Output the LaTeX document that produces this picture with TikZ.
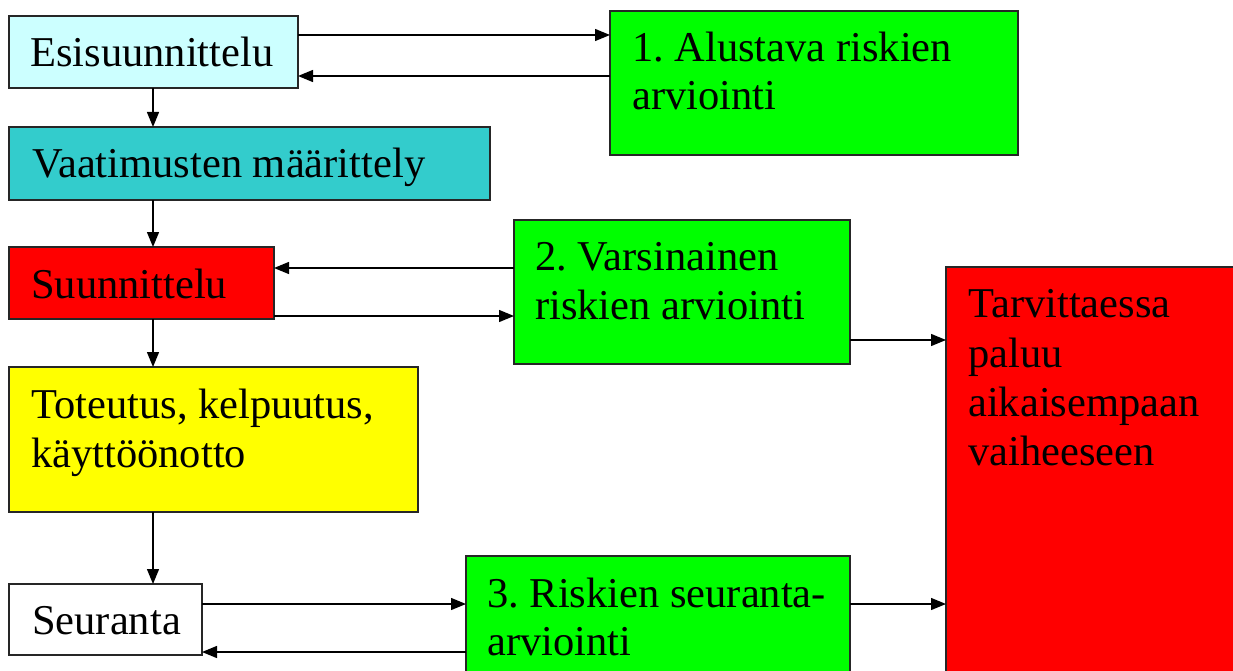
\documentclass[tikz,border=0pt]{standalone}
\usepackage{fontspec}
\setmainfont{Liberation Serif}
\usetikzlibrary{arrows.meta}
\frenchspacing
\definecolor{lcyan}{HTML}{CCFFFF}
\definecolor{teal2}{HTML}{33CCCC}
\definecolor{gr}{HTML}{00FF00}
\definecolor{rd}{HTML}{FF0000}
\definecolor{yl}{HTML}{FFFF00}
\tikzset{
  box/.style={draw=black!85, line width=1.8pt, rectangle, inner sep=0pt, outer sep=0pt, anchor=north west},
  txt/.style={anchor=base west, inner sep=0pt, font=\fontsize{42.5}{49}\selectfont},
  arr/.style={line width=1.3pt, -{Triangle[length=15pt,width=12pt]}}
}
\begin{document}
\begin{tikzpicture}[x=1pt,y=-1pt]
\useasboundingbox (0,0) rectangle (1233,671);
\clip (0,0) rectangle (1233,671);
% boxes
\node[box, fill=lcyan, minimum width=289pt, minimum height=72pt] (esi) at (9,16) {};
\node[box, fill=gr, minimum width=408pt, minimum height=144pt] (alu) at (610,11) {};
\node[box, fill=teal2, minimum width=481pt, minimum height=73pt] (vaat) at (9,127) {};
\node[box, fill=rd, minimum width=265pt, minimum height=72pt] (suu) at (9,247) {};
\node[box, fill=gr, minimum width=336pt, minimum height=144pt] (var) at (514,220) {};
\node[box, fill=yl, minimum width=409pt, minimum height=145pt] (tot) at (9,367) {};
\node[box, fill=white, minimum width=193pt, minimum height=71pt] (seu) at (9,584) {};
\node[box, fill=gr, minimum width=384pt, minimum height=140pt] (ris) at (466,556) {};
\node[box, fill=rd, minimum width=320pt, minimum height=430pt] (tar) at (946,267) {};
% texts
\node[txt] (t1) at (30,67) {Esisuunnittelu};
\node[txt] (t2a) at (632,62) {1. Alustava riskien};
\node[txt] (t2b) at (632,110) {arviointi};
\node[txt] (t3) at (32,178) {Vaatimusten määrittely};
\node[txt] (t4) at (31,298) {Suunnittelu};
\node[txt] (t5a) at (535,270) {2. Varsinainen};
\node[txt] (t5b) at (535,319) {riskien arviointi};
\node[txt] (t6a) at (31,418) {Toteutus, kelpuutus,};
\node[txt] (t6b) at (31,467) {käyttöönotto};
\node[txt] (t7) at (32,634) {Seuranta};
\node[txt] (t8a) at (487,607) {3. Riskien seuranta-};
\node[txt] (t8b) at (487,655) {arviointi};
\node[txt] (t9a) at (968,317) {Tarvittaessa};
\node[txt] (t9b) at (968,367) {paluu};
\node[txt] (t9c) at (968,416) {aikaisempaan};
\node[txt] (t9d) at (968,465) {vaiheeseen};
% helper levels
\coordinate (v) at (153,0);
\coordinate (h1) at (0,35);
\coordinate (h2) at (0,76);
\coordinate (h3) at (0,268);
\coordinate (h4) at (0,316);
\coordinate (h5) at (0,340);
\coordinate (h6) at (0,604);
\coordinate (h7) at (0,652);
% connectors
\draw[arr] (esi.east |- h1) -- (alu.west |- h1);
\draw[arr] (alu.west |- h2) -- (esi.east |- h2);
\draw[arr] (v |- esi.south) -- (v |- vaat.north);
\draw[arr] (v |- vaat.south) -- (v |- suu.north);
\draw[arr] (var.west |- h3) -- (suu.east |- h3);
\draw[arr] (suu.east |- h4) -- (var.west |- h4);
\draw[arr] (v |- suu.south) -- (v |- tot.north);
\draw[arr] (v |- tot.south) -- (v |- seu.north);
\draw[arr] (var.east |- h5) -- (tar.west |- h5);
\draw[arr] (seu.east |- h6) -- (ris.west |- h6);
\draw[arr] (ris.west |- h7) -- (seu.east |- h7);
\draw[arr] (ris.east |- h6) -- (tar.west |- h6);
\end{tikzpicture}
\end{document}
